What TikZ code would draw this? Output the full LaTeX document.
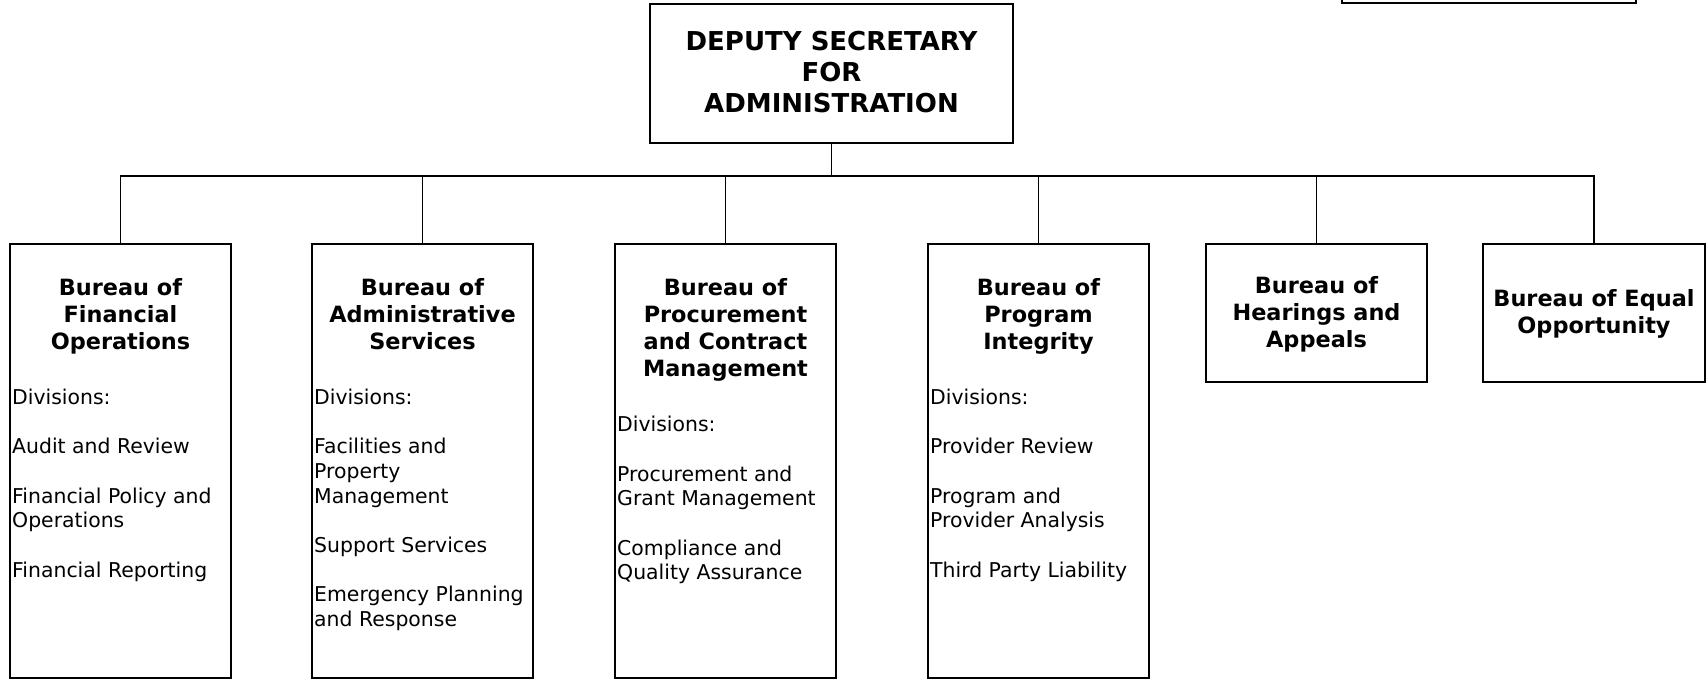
\documentclass[tikz,border=0pt]{standalone}
\usepackage{fontspec}
\setmainfont{DejaVu Sans}
\begin{document}
\begin{tikzpicture}[x=1pt,y=-1pt,
  box/.style={draw, line width=1.4pt, minimum width=221pt, inner sep=0pt, outer sep=0pt, anchor=north},
  title/.style={font=\fontsize{22.4}{27}\selectfont\bfseries, align=center, inner sep=0pt, anchor=north},
  toptitle/.style={font=\fontsize{26}{31}\selectfont\bfseries, align=center, inner sep=0pt, anchor=north},
  body/.style={font=\fontsize{20.4}{24.7}\selectfont, align=left, inner sep=0pt, anchor=north west},
  link/.style={line width=1.4pt}]
\clip (0,0) rectangle (1707,679);
\useasboundingbox (0,0) rectangle (1707,679);

% partial box at top right
\node[draw, line width=2pt, minimum width=294pt, minimum height=40pt, inner sep=0pt, anchor=south] (legend) at (1489,4.5) {};

% top box
\node[box, minimum width=363pt, minimum height=139pt] (top) at (831.5,4) {};
\node[toptitle] (toptext) at (831.5,31.5) {DEPUTY SECRETARY\\FOR\\ADMINISTRATION};

% bureau boxes
\node[box, minimum height=434pt] (b1) at (120.5,244) {};
\node[box, minimum height=434pt] (b2) at (422.5,244) {};
\node[box, minimum height=434pt] (b3) at (725.5,244) {};
\node[box, minimum height=434pt] (b4) at (1038.5,244) {};
\node[box, minimum height=138pt] (b5) at (1316.5,244) {};
\node[box, minimum height=138pt, minimum width=222pt] (b6) at (1594,244) {};

% titles
\node[title] (t1) at (120.5,278.5) {Bureau of\\Financial\\Operations};
\node[title] (t2) at (422.5,278.5) {Bureau of\\Administrative\\Services};
\node[title] (t3) at (725.5,278.5) {Bureau of\\Procurement\\and Contract\\Management};
\node[title] (t4) at (1038.5,278.5) {Bureau of\\Program\\Integrity};
\node[title] (t5) at (1316.5,276.5) {Bureau of\\Hearings and\\Appeals};
\node[title] (t6) at (1594,289.5) {Bureau of Equal\\Opportunity};

% divisions
\node[body] (d1) at (12,388.5) {Divisions:\\[24.7pt]Audit and Review\\[24.7pt]Financial Policy and\\Operations\\[24.7pt]Financial Reporting};
\node[body] (d2) at (314,388.5) {Divisions:\\[24.7pt]Facilities and\\Property\\Management\\[24.7pt]Support Services\\[24.7pt]Emergency Planning\\and Response};
\node[body] (d3) at (617,416) {Divisions:\\[24.7pt]Procurement and\\Grant Management\\[24.7pt]Compliance and\\Quality Assurance};
\node[body] (d4) at (930,388.5) {Divisions:\\[24.7pt]Provider Review\\[24.7pt]Program and\\Provider Analysis\\[24.7pt]Third Party Liability};

% connectors
\coordinate (bar) at (831.5,176);
\draw[link] (top.south) -- (bar);
\draw[link] (b1.north) |- (bar) -| (b6.north);
\draw[link] (b2.north) -- (b2.north |- bar);
\draw[link] (b3.north) -- (b3.north |- bar);
\draw[link] (b4.north) -- (b4.north |- bar);
\draw[link] (b5.north) -- (b5.north |- bar);
\end{tikzpicture}
\end{document}
